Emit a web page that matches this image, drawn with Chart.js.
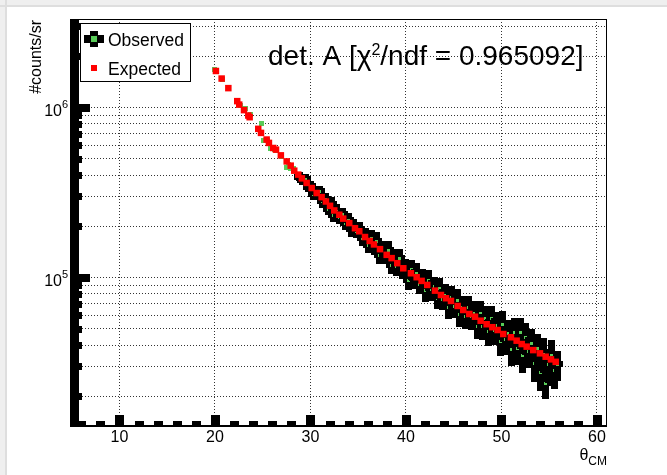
<!DOCTYPE html>
<html><head><meta charset="utf-8">
<script src="https://cdn.jsdelivr.net/npm/chart.js@4.4.0/dist/chart.umd.min.js"></script>
<style>html,body{margin:0;padding:0;background:#fff;overflow:hidden}canvas{display:block}</style>
</head><body>
<canvas id="c" width="667" height="475" style="width:667px;height:475px"></canvas>
<script>
// ---------- data ----------
const expectedX = [20.1,20.7,21.4,22.33,22.54,23.04,23.49,23.63,24.53,24.82,25.41,25.65,26.1,26.39,26.9,27.51,27.93,28.3,28.72,29.1,29.6,30.13,30.65,31.17,31.62,32.05,32.49,33.02,33.43,34.06,34.66,35.11,35.71,36.2,36.65,37.28,37.98,38.5,39.09,39.72,40.52,41.12,41.64,42.23,43.04,43.66,44.19,44.71,45.41,46.0,46.63,47.23,47.82,48.45,49.04,49.6,50.19,50.99,51.59,52.12,52.64,53.33,54.03,54.63,55.18,55.68];
const expectedY = [1.64e6,1.48e6,1.30e6,1.09e6,1.04e6,9.65e5,8.97e5,8.77e5,7.49e5,7.09e5,6.48e5,6.19e5,5.78e5,5.65e5,5.23e5,4.82e5,4.55e5,4.25e5,4.03e5,3.83e5,3.6e5,3.36e5,3.14e5,2.97e5,2.80e5,2.64e5,2.48e5,2.34e5,2.22e5,2.09e5,1.95e5,1.87e5,1.73e5,1.64e5,1.565e5,1.468e5,1.359e5,1.30e5,1.214e5,1.133e5,1.059e5,1.004e5,9.55e4,9.04e4,8.37e4,7.89e4,7.55e4,7.28e4,6.80e4,6.44e4,6.10e4,5.88e4,5.57e4,5.31e4,5.10e4,4.91e4,4.65e4,4.45e4,4.25e4,4.06e4,3.92e4,3.74e4,3.58e4,3.42e4,3.30e4,3.19e4];

const observedX = [19.95,20.7,21.4,22.27,22.6,23.14,23.66,24.79,25.05,25.45,25.76,26.15,26.4,26.9,27.43,
  27.6,27.9,28.2,28.5,28.8,29.1,29.4,29.7,30.0,30.3,30.6,30.9,31.2,31.5,31.8,32.1,32.4,32.7,33.0,33.3,33.6,33.9,34.2,34.5,34.8,35.1,35.4,35.7,36.0,
  36.3,36.6,36.9,37.2,37.5,37.8,38.1,38.4,38.7,39.0,39.3,39.6,39.9,40.2,40.5,40.8,41.1,41.4,41.7,42.0,42.3,42.6,42.9,43.2,43.5,43.8,44.1,44.4,44.7,45.0,
  45.3,45.6,45.9,46.2,46.5,46.8,47.1,47.4,47.7,48.0,48.3,48.6,48.9,49.2,49.5,49.8,50.1,50.4,50.7,51.0,51.3,51.6,51.9,52.2,52.5,52.8,53.1,53.4,53.7,54.0,54.3,54.6,54.9,55.2,55.5,55.8];
const observedY = [1.68e6,1.47e6,1.31e6,1.11e6,1.04e6,1.0e6,9.2e5,8.1e5,6.44e5,6.45e5,5.75e5,5.7e5,5.62e5,5.2e5,4.48e5,
  4.66e5,4.38e5,4.40e5,3.94e5,3.92e5,3.73e5,3.81e5,3.41e5,3.47e5,3.08e5,3.19e5,3.21e5,2.80e5,2.91e5,2.54e5,2.72e5,2.32e5,2.47e5,2.27e5,2.37e5,2.09e5,2.18e5,1.93e5,2.02e5,1.89e5,1.94e5,1.71e5,1.77e5,1.56e5,
  1.71e5,1.53e5,1.64e5,1.36e5,1.47e5,1.36e5,1.46e5,1.19e5,1.32e5,1.17e5,1.30e5,1.12e5,1.13e5,9.7e4,1.12e5,9.9e4,1.07e5,9.2e4,9.8e4,8.4e4,9.7e4,8.5e4,8.9e4,7.6e4,8.7e4,7.5e4,7.9e4,6.7e4,7.7e4,6.8e4,
  7.4e4,6.1e4,6.7e4,5.9e4,6.7e4,5.9e4,6.2e4,5.2e4,6.2e4,5.2e4,5.75e4,4.84e4,5.76e4,4.89e4,5.25e4,4.24e4,5.35e4,4.32e4,4.70e4,3.78e4,4.79e4,3.83e4,4.79e4,3.48e4,4.44e4,3.69e4,4.10e4,3.12e4,3.83e4,2.79e4,3.57e4,2.40e4,3.09e4,3.50e4,2.84e4,3.08e4];
const observedErr = [1.5e4,1.3e4,1.2e4,1.0e4,1.0e4,9e3,8e3,7e3,6e3,6e3,5e3,5e3,5e3,5e3,4e3,
  1.9e4,2.2e4,2.2e4,2.0e4,2.3e4,2.2e4,2.3e4,2.4e4,2.4e4,2.2e4,2.6e4,2.6e4,2.2e4,2.3e4,2.0e4,2.5e4,2.1e4,2.2e4,2.0e4,2.1e4,1.9e4,2.2e4,1.9e4,2.0e4,1.9e4,1.9e4,1.7e4,1.9e4,1.7e4,
  1.9e4,1.7e4,2.0e4,1.6e4,1.8e4,1.6e4,1.7e4,1.4e4,1.6e4,1.5e4,1.7e4,1.4e4,1.5e4,1.3e4,1.5e4,1.3e4,1.4e4,1.2e4,1.4e4,1.2e4,1.4e4,1.2e4,1.2e4,1.1e4,1.2e4,1.1e4,1.2e4,1.0e4,1.2e4,1.0e4,
  1.2e4,1.0e4,1.1e4,9.5e3,1.1e4,1.0e4,1.05e4,8.8e3,1.05e4,9.4e3,1.03e4,8.7e3,1.04e4,8.8e3,1.0e4,8.1e3,1.0e4,8.2e3,9.4e3,7.6e3,9.6e3,7.7e3,1.0e4,7.3e3,9.3e3,7.7e3,9.0e3,6.9e3,8.4e3,6.4e3,8.2e3,4.8e3,7.1e3,7.7e3,6.2e3,6.2e3];

const xTickValues = [10,20,30,40,50,60];
const xMinorTickValues = [6,8,12,14,16,18,22,24,26,28,32,34,36,38,42,44,46,48,52,54,56,58];
const yMajorTickValues = [1e5,1e6];
const yTickBase = ['10','10'];
const yTickExp = ['5','6'];
const yMinorTickValues = [2e4,3e4,4e4,5e4,6e4,7e4,8e4,9e4,2e5,3e5,4e5,5e5,6e5,7e5,8e5,9e5,2e6,3e6];
const legendLabels = ['Observed','Expected'];
const titleParts = ['det. A [\u03c7','2','/ndf = 0.965092]'];
const yTitle = '#counts/sr';
const xTitle = ['\u03b8','CM'];

// ---------- style ----------
const FONT = '"Liberation Sans", Arial, Helvetica, sans-serif';
const GREEN = '#58cc58';
const RED = '#ff0000';

const rootPlugin = {
  id: 'rootStyle',
  beforeDraw(chart) {
    const ctx = chart.ctx;
    ctx.save();
    ctx.fillStyle = '#efefef'; ctx.fillRect(0, 0, 667, 475);
    ctx.fillStyle = '#dedede'; ctx.fillRect(0, 5, 667, 2); ctx.fillRect(5, 0, 2, 475);
    ctx.fillStyle = '#ffffff'; ctx.fillRect(7, 7, 660, 468);
    ctx.restore();
  },
  beforeDatasetsDraw(chart) {
    const ctx = chart.ctx, ca = chart.chartArea;
    const ys = chart.scales.y;
    const meta = chart.getDatasetMeta(1);
    ctx.save();
    ctx.beginPath(); ctx.rect(ca.left, ca.top, ca.right - ca.left, ca.bottom - ca.top); ctx.clip();
    meta.data.forEach((pt, i) => {
      const x = Math.round(pt.x), y = Math.round(pt.y);
      const yTop = Math.round(ys.getPixelForValue(observedY[i] + observedErr[i]));
      const yBot = Math.round(ys.getPixelForValue(observedY[i] - observedErr[i]));
      if (yBot - yTop > 7) {
        ctx.fillStyle = '#000';
        ctx.fillRect(x - 3, yTop, 7, yBot - yTop);
        ctx.fillRect(x - 5, y - 3, 11, 6);
        ctx.fillStyle = GREEN;
        ctx.fillRect(x - 1, y - 1, 3, 3);
      } else {
        ctx.fillStyle = GREEN;
        ctx.fillRect(x - 2, y - 2, 5, 5);
      }
    });
    ctx.restore();
  },
  afterDatasetsDraw(chart) {
    const ctx = chart.ctx, ca = chart.chartArea;
    const xs = chart.scales.x, ys = chart.scales.y;
    ctx.save();
    ctx.fillStyle = '#000';
    // frame
    ctx.strokeStyle = '#000'; ctx.lineWidth = 1;
    ctx.strokeRect(ca.left + 0.5, ca.top + 0.5, ca.right - ca.left - 1, ca.bottom - ca.top - 1);
    ctx.fillRect(ca.left, ca.bottom - 2, ca.right - ca.left, 2);
    // thick y axis
    ctx.fillRect(ca.left, ca.top, 9, ca.bottom - ca.top);
    yMinorTickValues.forEach(v => {
      const p = Math.round(ys.getPixelForValue(v));
      ctx.fillRect(ca.left, p - 3, 12, 7);
    });
    yMajorTickValues.forEach(v => {
      const p = Math.round(ys.getPixelForValue(v));
      ctx.fillRect(ca.left, p - 4, 20, 8);
    });
    // thick x ticks
    xMinorTickValues.forEach(v => {
      const p = Math.round(xs.getPixelForValue(v));
      ctx.fillRect(p - 4, ca.bottom - 6, 9, 6);
    });
    xTickValues.forEach(v => {
      const p = Math.round(xs.getPixelForValue(v));
      ctx.fillRect(p - 4, ca.bottom - 12, 9, 12);
    });
    // legend
    ctx.fillStyle = '#fff'; ctx.fillRect(80, 23, 111, 59);
    ctx.strokeRect(80.5, 23.5, 110, 58);
    ctx.fillStyle = '#000';
    ctx.fillRect(84, 35, 20, 8);
    ctx.fillRect(90, 31, 8, 16);
    ctx.fillStyle = GREEN; ctx.fillRect(91, 36, 6, 6);
    ctx.fillStyle = RED; ctx.fillRect(91, 65, 6, 6);
    ctx.fillStyle = '#000';
    ctx.font = '17.5px ' + FONT; ctx.textBaseline = 'alphabetic'; ctx.textAlign = 'left';
    ctx.fillText(legendLabels[0], 108, 45.5);
    ctx.fillText(legendLabels[1], 108, 75);
    // title
    ctx.font = '28px ' + FONT;
    let tx = 268;
    ctx.fillText(titleParts[0], tx, 65); tx += ctx.measureText(titleParts[0]).width;
    ctx.font = '16px ' + FONT;
    ctx.fillText(titleParts[1], tx, 55); tx += ctx.measureText(titleParts[1]).width;
    ctx.font = '28px ' + FONT;
    ctx.fillText(titleParts[2], tx, 65);
    // y tick labels
    yMajorTickValues.forEach((v, i) => {
      const p = ys.getPixelForValue(v);
      ctx.font = '16px ' + FONT; ctx.textAlign = 'right';
      ctx.fillText(yTickBase[i], 62, p + 8.5);
      ctx.font = '11px ' + FONT; ctx.textAlign = 'left';
      ctx.fillText(yTickExp[i], 62, p + 0.5);
    });
    // y title
    ctx.save();
    ctx.translate(41, 20); ctx.rotate(-Math.PI / 2);
    ctx.font = '16px ' + FONT; ctx.textAlign = 'right';
    ctx.fillText(yTitle, 0, 0);
    ctx.restore();
    // x title
    ctx.textAlign = 'right';
    ctx.font = '12px ' + FONT;
    ctx.fillText(xTitle[1], 607, 465);
    const cmw = ctx.measureText(xTitle[1]).width;
    ctx.font = '16px ' + FONT;
    ctx.fillText(xTitle[0], 607 - cmw, 460);
    ctx.restore();
  }
};

const gridOpts = { color: 'rgba(0,0,0,0.8)', lineWidth: 1, drawTicks: false };

new Chart(document.getElementById('c'), {
  type: 'scatter',
  data: {
    datasets: [
      { label: legendLabels[1], data: expectedX.map((x, i) => ({x, y: expectedY[i]})),
        pointStyle: 'rect', pointRadius: 4.6, pointBorderWidth: 0, backgroundColor: RED, borderColor: RED },
      { label: legendLabels[0], data: observedX.map((x, i) => ({x, y: observedY[i]})),
        pointRadius: 0, pointHoverRadius: 0, backgroundColor: GREEN, borderColor: '#000' }
    ]
  },
  options: {
    responsive: false, animation: false, devicePixelRatio: 1,
    layout: { padding: { left: 0, top: 19, right: 60, bottom: 0 } },
    plugins: { legend: { display: false }, tooltip: { enabled: false } },
    events: [],
    scales: {
      x: {
        type: 'linear', min: 4.82, max: 61.05,
        grid: gridOpts,
        border: { display: false, dash: [1, 2] },
        afterBuildTicks: s => { s.ticks = xTickValues.map(v => ({ value: v })); },
        afterFit: s => { s.height = 48; },
        ticks: { color: '#000', font: { family: FONT, size: 16 }, padding: 1, maxRotation: 0, autoSkip: false,
                 callback: v => String(v) }
      },
      y: {
        type: 'logarithmic', min: 1.32e4, max: 3.316e6,
        grid: gridOpts,
        border: { display: false, dash: [1, 2] },
        afterBuildTicks: s => { s.ticks = yMinorTickValues.concat(yMajorTickValues).sort((a, b) => a - b).map(v => ({ value: v })); },
        afterFit: s => { s.width = 70; },
        ticks: { display: false }
      }
    }
  },
  plugins: [rootPlugin]
});
</script>
</body></html>
